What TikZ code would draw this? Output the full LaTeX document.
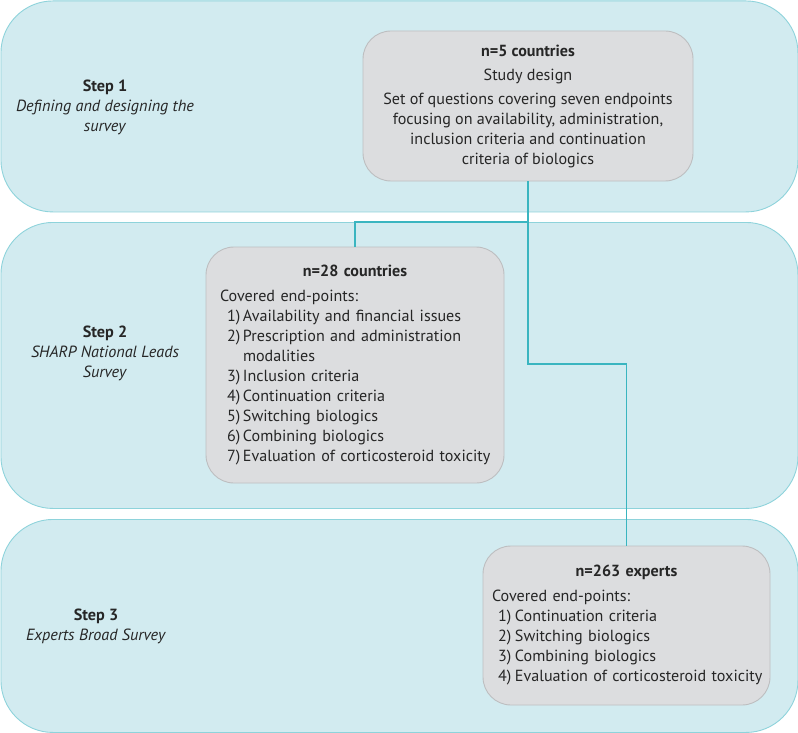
\documentclass[tikz,border=0pt]{standalone}
\usepackage{fontspec}
\setmainfont{PT Sans}
\definecolor{bandfill}{HTML}{D2EBF0}
\definecolor{bandline}{HTML}{8ED3DB}
\definecolor{boxfill}{HTML}{DCDDDF}
\definecolor{boxline}{HTML}{BDBEC0}
\definecolor{connc}{HTML}{3AB5C0}
\definecolor{txt}{HTML}{262626}
\begin{document}
\begin{tikzpicture}[x=1pt,y=-1pt,
  band/.style={draw=bandline, fill=bandfill, line width=0.9pt, rounded corners=52pt, anchor=north west, inner sep=0pt},
  steptext/.style={align=center, text=txt, font=\fontsize{16.2}{20}\selectfont},
  graybox/.style={draw=boxline, fill=boxfill, line width=0.9pt, rounded corners=28pt, text=txt, font=\fontsize{16.1}{20}\selectfont},
  connline/.style={draw=connc, line width=1.3pt}]
\useasboundingbox (0,0) rectangle (798,733);
% bands
\node[band, minimum width=797pt, minimum height=211pt] (band1) at (0.5,0.5) {};
\node[band, minimum width=797pt, minimum height=286pt] (band2) at (0.5,222) {};
\node[band, minimum width=797pt, minimum height=213pt] (band3) at (0.5,519) {};
% step labels
\node[steptext] (s1) at (105,107) {\textbf{Step 1}\\\textit{Defining and designing the}\\\textit{survey}};
\node[steptext] (s2) at (105,353) {\textbf{Step 2}\\\textit{SHARP National Leads}\\\textit{Survey}};
\node[steptext] (s3) at (96,626) {\textbf{Step 3}\\\textit{Experts Broad Survey}};
% boxes
\node[graybox, align=center, minimum width=330pt, minimum height=150pt] (box1) at (528,106)
 {\textbf{n=5 countries}\\[4pt]Study design\\[4pt]Set of questions covering seven endpoints\\focusing on availability, administration,\\inclusion criteria and continuation\\criteria of biologics};
\node[graybox, align=left, text width=270pt, inner xsep=14pt, minimum width=298pt, minimum height=236pt] (box2) at (355,365)
 {\makebox[270pt]{\textbf{n=28 countries}}\\[5pt]
  Covered end-points:\\
  \mbox{\hspace*{7pt}\makebox[16pt][l]{1)}Availability and financial issues}\\
  \mbox{\hspace*{7pt}\makebox[16pt][l]{2)}Prescription and administration}\\
  \hspace*{23pt}modalities\\
  \mbox{\hspace*{7pt}\makebox[16pt][l]{3)}Inclusion criteria}\\
  \mbox{\hspace*{7pt}\makebox[16pt][l]{4)}Continuation criteria}\\
  \mbox{\hspace*{7pt}\makebox[16pt][l]{5)}Switching biologics}\\
  \mbox{\hspace*{7pt}\makebox[16pt][l]{6)}Combining biologics}\\
  \mbox{\hspace*{7pt}\makebox[16pt][l]{7)}Evaluation of corticosteroid toxicity}};
\node[graybox, align=left, text width=269pt, inner xsep=9pt, minimum width=287pt, minimum height=159pt] (box3) at (626.5,625.5)
 {\makebox[269pt]{\textbf{n=263 experts}}\\[5pt]
  Covered end-points:\\
  \mbox{\hspace*{6pt}\makebox[17pt][l]{1)}Continuation criteria}\\
  \mbox{\hspace*{6pt}\makebox[17pt][l]{2)}Switching biologics}\\
  \mbox{\hspace*{6pt}\makebox[17pt][l]{3)}Combining biologics}\\
  \mbox{\hspace*{6pt}\makebox[17pt][l]{4)}Evaluation of corticosteroid toxicity}};
% connectors
\coordinate (turn) at (600,364);
\draw[connline] (box1.south) |- (turn) -| (box3.north);
\draw[connline] (box2.north) |- (box1.south |- band2.north);
\end{tikzpicture}
\end{document}
